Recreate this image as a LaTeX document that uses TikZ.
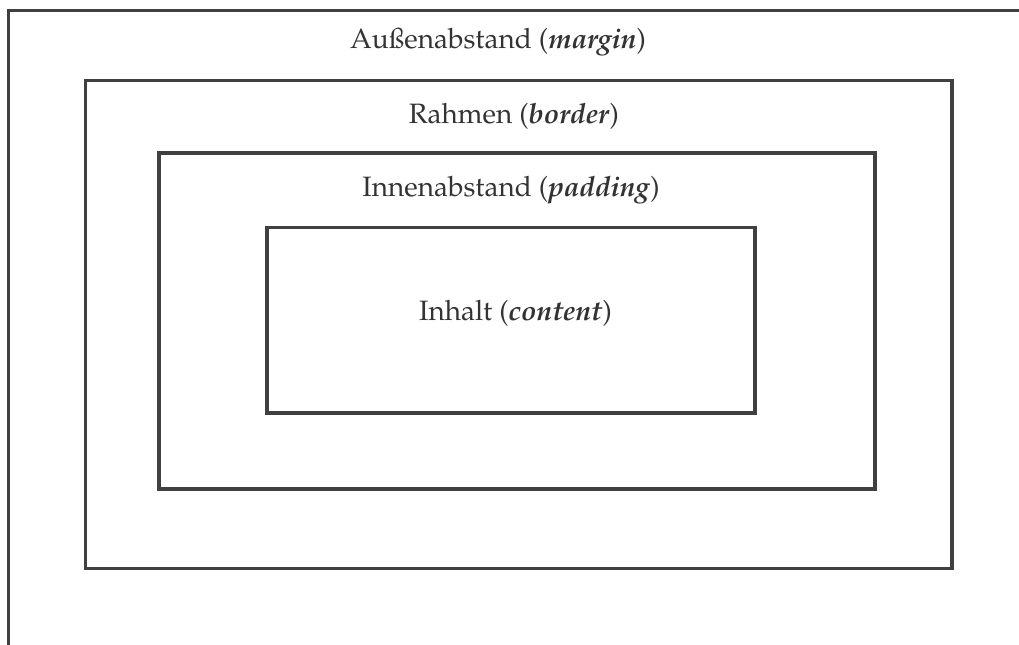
\documentclass[tikz,border=0pt]{standalone}
\usepackage[T1]{fontenc}
\usepackage{mathpazo}
\definecolor{linegray}{HTML}{404040}
\definecolor{textgray}{HTML}{333333}
\tikzset{
  boxline/.style={draw=linegray, line width=3.3bp},
  lbl/.style={anchor=base, inner sep=0pt, text=textgray, font=\fontsize{28bp}{33bp}\selectfont}
}
\begin{document}
\begin{tikzpicture}[x=1bp,y=-1bp]
\useasboundingbox (0,0) rectangle (1019,645);
% margin (only top and left visible)
\coordinate (mb) at (8.5,645);
\coordinate (mc) at (8.5,10.5);
\coordinate (mr) at (1019,10.5);
\draw[boxline, line join=miter] (mb) -- (mc) -- (mr);
% border
\draw[boxline] (85.5,80.5) rectangle (952,568.5);
% padding
\draw[boxline] (159,153) rectangle (875,489);
% content
\draw[boxline] (267,227.5) rectangle (755,413);
\node[lbl] (margin) at (498,48.5) {Au\ss enabstand (\textbf{\textit{margin}})};
\node[lbl] (border) at (514,123.5) {Rahmen (\textbf{\textit{border}})};
\node[lbl] (padding) at (511,197) {Innenabstand (\textbf{\textit{padding}})};
\node[lbl] (content) at (515.5,320) {Inhalt (\textbf{\textit{content}})};
\end{tikzpicture}
\end{document}
